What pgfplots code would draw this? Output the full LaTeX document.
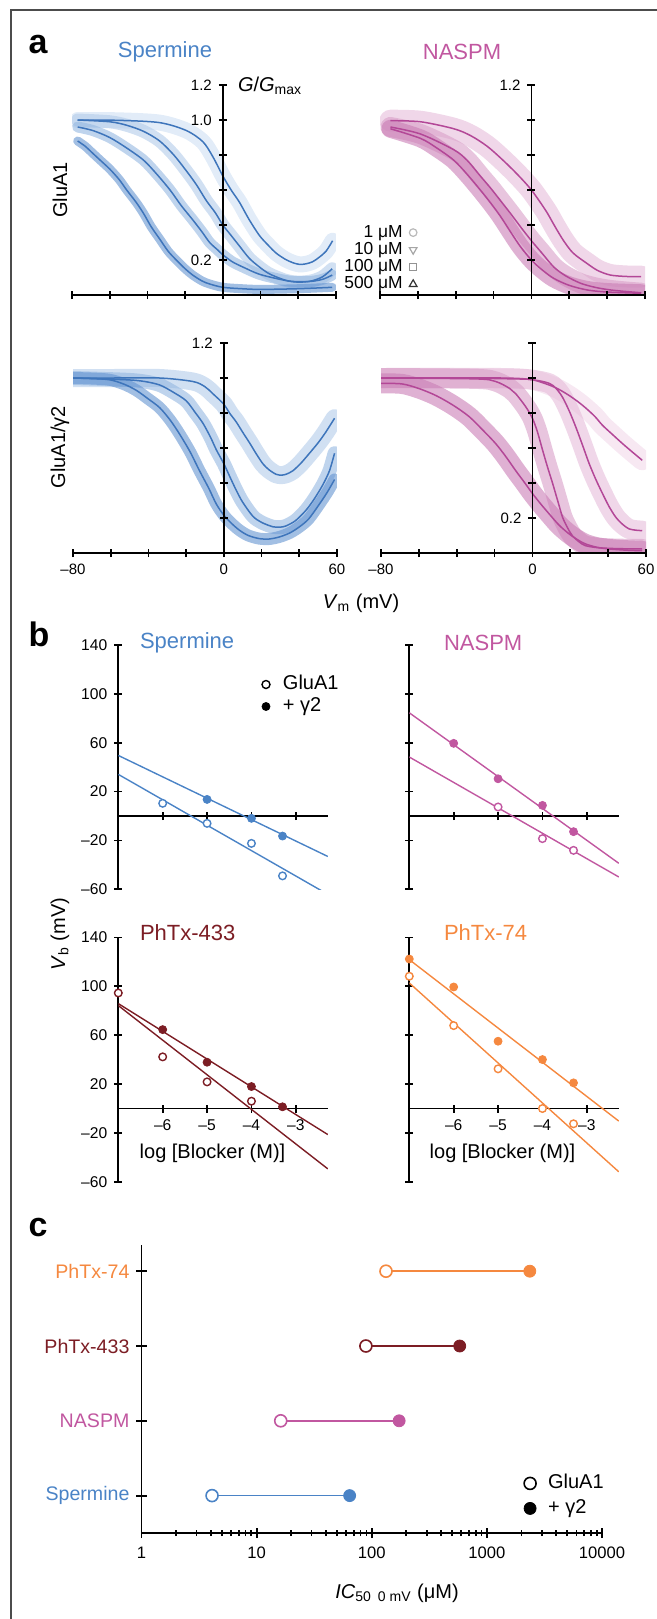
\documentclass[border=0pt]{standalone}
\usepackage{fontspec}
\setmainfont{Liberation Sans}
\usepackage{pgfplots}
\pgfplotsset{compat=1.18}
\usepackage{pgfplotstable}

\definecolor{spm}{HTML}{4A83C6}
\definecolor{spmline}{HTML}{3E75BB}
\definecolor{spm1}{HTML}{CFE0F3}
\definecolor{spm10}{HTML}{B3CCEA}
\definecolor{spm100}{HTML}{94B7E1}
\definecolor{spm500}{HTML}{6494D1}
\definecolor{nas}{HTML}{C157A0}
\definecolor{nasline}{HTML}{B34797}
\definecolor{nas1}{HTML}{F1D9EA}
\definecolor{nas10}{HTML}{E6BDDA}
\definecolor{nas100}{HTML}{D99FC8}
\definecolor{nas500}{HTML}{CA7DB5}
\definecolor{ph4}{HTML}{7C1D24}
\definecolor{ph7}{HTML}{F5883F}

\newcommand\ftitle{\fontsize{11}{13}\selectfont}
\newcommand\flab{\fontsize{10}{12}\selectfont}

% ---- panel a: G/Gmax vs Vm (fits) ----
\pgfplotstableread{
v g
-77 1.0
-55 0.998
-33.5 0.985
-19.4 0.94
-10.6 0.876
-5.3 0.79
0 0.68
4.4 0.60
8.8 0.53
14 0.43
19.4 0.34
24 0.285
28.2 0.24
33 0.205
37 0.185
40.6 0.175
44 0.178
47.6 0.19
51 0.215
54.7 0.25
58.2 0.31
}\spA
\pgfplotstableread{
v g
-77 1.0
-60 0.99
-51 0.97
-42 0.935
-33.5 0.88
-26 0.80
-19.4 0.71
-14 0.63
-8.8 0.54
-4 0.47
0 0.40
4.4 0.34
8.8 0.28
14 0.21
19.4 0.16
24 0.125
28 0.105
33 0.085
37 0.076
42 0.074
47.6 0.082
53 0.105
58 0.15
}\spB
\pgfplotstableread{
v g
-77 0.96
-69 0.94
-60 0.90
-51 0.84
-42 0.77
-35 0.69
-28 0.60
-22 0.51
-16 0.43
-11 0.36
-7 0.30
-3 0.26
0 0.23
5 0.19
10.6 0.16
19 0.12
28 0.095
35 0.08
40.6 0.076
47 0.078
53 0.09
58 0.114
}\spC
\pgfplotstableread{
v g
-77 0.88
-73 0.85
-69 0.81
-65 0.77
-60 0.72
-55 0.66
-51 0.60
-46 0.53
-42 0.465
-38 0.39
-33.5 0.32
-29 0.25
-24.7 0.20
-20 0.15
-16 0.114
-11 0.08
-7 0.063
0 0.044
10 0.036
20 0.032
40 0.036
58 0.044
}\spD
\pgfplotstableread{
v g
-74.5 0.996
-58.6 0.99
-41 0.95
-32 0.91
-23.4 0.85
-16 0.78
-9.3 0.71
-4 0.65
0 0.60
4 0.54
8.3 0.47
12.5 0.39
17 0.31
22 0.24
29.4 0.18
35 0.14
41.7 0.114
50 0.106
58 0.105
}\naB
\pgfplotstableread{
v g
-74.5 0.96
-58.6 0.92
-41 0.83
-34 0.77
-27 0.68
-21.5 0.61
-16.4 0.54
-11 0.465
-5.8 0.39
0 0.31
5.5 0.24
11.8 0.16
18 0.11
26 0.067
34 0.043
41.7 0.029
50 0.02
58 0.013
}\naC
\pgfplotstableread{
v g
-74.5 0.95
-58.6 0.895
-50 0.84
-41 0.77
-34 0.69
-27 0.60
-21.5 0.525
-16.4 0.45
-11 0.36
-5.8 0.276
0 0.20
5.5 0.145
11.8 0.095
20 0.055
29.4 0.029
40 0.017
58 0.01
}\naD
\pgfplotstableread{
v g
-80 1.0
-60 1.0
-34 1.0
-16.4 0.98
-10 0.95
-5.8 0.91
0 0.85
3 0.80
6.5 0.75
10 0.69
13.6 0.63
17 0.57
20.7 0.51
24 0.475
27.7 0.45
30.4 0.445
33 0.45
36.6 0.47
41 0.515
45.4 0.57
50 0.63
54 0.69
58.7 0.77
}\gaB
\pgfplotstableread{
v g
-80 1.0
-51.8 0.99
-42 0.98
-34 0.96
-27 0.92
-20 0.87
-15 0.80
-11 0.74
-7 0.66
-4 0.59
0 0.51
3 0.44
6.5 0.36
10 0.29
15.4 0.21
20 0.175
26 0.15
30 0.148
33 0.155
38 0.185
43.6 0.245
48 0.31
52.5 0.39
56 0.47
58.7 0.57
}\gaC
\pgfplotstableread{
v g
-80 1.0
-70 0.997
-60.6 0.99
-53 0.965
-46.5 0.93
-40 0.88
-34 0.83
-28.5 0.76
-23.5 0.68
-18 0.58
-12.9 0.47
-8 0.37
-4 0.28
0 0.216
4 0.17
8.3 0.13
13 0.10
18.9 0.082
24 0.08
29.5 0.092
35 0.115
40 0.149
45 0.195
50.7 0.28
55 0.35
58.7 0.42
}\gaD
\pgfplotstableread{
v g
-80 1.0
-40 1.0
-10 0.995
0 0.99
8.8 0.96
14 0.935
19.4 0.90
24 0.865
28 0.83
33 0.78
37 0.73
42 0.68
47.6 0.625
53 0.575
58 0.53
}\mgA
\pgfplotstableread{
v g
-80 1.0
-16 1.0
0 0.99
8.8 0.97
12.5 0.94
15.9 0.89
19.5 0.81
22.9 0.72
26.5 0.615
30 0.51
33.5 0.42
37 0.34
40.5 0.265
44 0.205
47.5 0.165
51 0.138
55 0.13
58 0.128
}\mgB
\pgfplotstableread{
v g
-80 1.0
-30 0.995
-19.4 0.98
-12 0.94
-8.8 0.91
-3.5 0.835
0 0.77
2.7 0.69
5.3 0.59
8 0.49
10.6 0.40
13.3 0.30
15.9 0.205
18.5 0.145
21 0.10
24.5 0.065
28 0.042
35 0.03
45 0.025
58 0.023
}\mgC
\pgfplotstableread{
v g
-80 0.97
-68.8 0.966
-60 0.94
-51 0.90
-42 0.845
-33.5 0.78
-26 0.70
-19.4 0.625
-14 0.55
-8.8 0.47
-4 0.40
0 0.34
4.4 0.28
8.8 0.224
14 0.16
19.4 0.109
24 0.075
28 0.052
34 0.033
40.6 0.023
50 0.016
58 0.013
}\mgD

\pgfplotsset{
  noarrow/.style={axis line style={-, line width=0.9pt},
    x axis line style={-}, y axis line style={-},
    every inner x axis line/.append style={-}, every outer x axis line/.append style={-},
    every inner y axis line/.append style={-}, every outer y axis line/.append style={-}},
  base/.style={scale only axis, enlargelimits=false,
    tick style={line width=0.9pt, black}, major tick length=4pt, tick align=outside,
    hide obscured x ticks=false, hide obscured y ticks=false,
    /pgf/number format/assume math mode=true},
  aP/.style={base, width=132pt, height=105pt, xmin=-80, xmax=60, ymin=0, ymax=1.2,
    axis x line=bottom, axis y line=middle, axis on top, noarrow,
    xtick={-80,-60,-40,-20,0,20,40,60}, ytick={0.2,0.4,0.6,0.8,1.0,1.2},
    tick label style={font=\fontsize{7.5}{8}\selectfont}},
  bP/.style={base, width=104.75pt, height=122.15pt, xmin=-7, xmax=-2.28, ymin=-60, ymax=140,
    axis x line=middle, axis y line=left, noarrow, clip mode=individual,
    xtick={-6,-5,-4,-3}, ytick={-60,-20,20,60,100,140},
    tick label style={font=\fontsize{7.8}{8}\selectfont}},
  band/.style={smooth, no markers, line width=#1, opacity=0.6, line cap=round, line join=round},
  fit/.style={smooth, no markers, line width=0.75pt},
  dot/.style={only marks, mark=*, mark size=2pt, #1},
  odot/.style={only marks, mark=*, mark size=1.9pt, mark options={fill=white, draw=#1, line width=0.7pt}},
  mylegend/.style={legend image code/.code={\draw[##1] plot coordinates {(0pt,0pt)};},
    legend cell align=left},
}

\begin{document}
\begin{tikzpicture}
\path[use as bounding box] (0,0) rectangle (328.5pt,-809.5pt);

% ===== panel a =====
\begin{axis}[aP, at={(36pt,-147.5pt)}, anchor=south west, width=132pt,
  xticklabels={}, yticklabels={0.2,,,,1.0,1.2}]
\addplot[band=8pt, spm1] table {\spA};
\addplot[band=6.5pt, spm10] table {\spB};
\addplot[band=5.5pt, spm100] table {\spC};
\addplot[band=4.5pt, spm500] table {\spD};
\addplot[fit, spmline] table {\spA};
\addplot[fit, spmline] table {\spB};
\addplot[fit, spmline] table {\spC};
\addplot[fit, spmline] table {\spD};
\end{axis}

\begin{axis}[aP, at={(190pt,-147.5pt)}, anchor=south west, width=132.5pt,
  xticklabels={}, yticklabels={,,,,,1.2},
  legend image code/.code={\draw[#1] plot coordinates {(0pt,0pt)};},
  legend plot pos=right, legend cell align=right,
  legend style={at={(rel axis cs:0.141,0.34)}, anchor=north east, draw=none, fill=none,
    inner sep=0pt, row sep=0pt, font=\fontsize{8.7}{9}\selectfont,
    nodes={inner sep=0.3pt, text height=6.3pt, text depth=1.7pt},
    /tikz/every odd column/.style={column sep=3pt}}]
\addlegendimage{only marks, mark=o, gray!55, mark size=1.9pt, line width=0.6pt}
\addlegendentry{1 μM}
\addlegendimage{only marks, mark=triangle, mark options={rotate=180}, gray!70, mark size=2.2pt, line width=0.6pt}
\addlegendentry{10 μM}
\addlegendimage{only marks, mark=square, gray!85, mark size=1.7pt, line width=0.6pt}
\addlegendentry{100 μM}
\addlegendimage{only marks, mark=triangle, black!80, mark size=2.2pt, line width=0.6pt}
\addlegendentry{500 μM}
\addplot[band=11pt, nas10] table {\naB};
\addplot[band=10pt, nas100] table {\naC};
\addplot[band=9pt, nas500] table {\naD};
\addplot[fit, nasline] table {\naB};
\addplot[fit, nasline] table {\naC};
\addplot[fit, nasline] table {\naD};
\end{axis}

\begin{axis}[aP, at={(36.5pt,-276.5pt)}, anchor=south west, width=132pt,
  xticklabels={–80,,,,0,,,60}, yticklabels={,,,,,1.2}]
\addplot[band=9pt, spm10] table {\gaB};
\addplot[band=7pt, spm100] table {\gaC};
\addplot[band=6pt, spm500] table {\gaD};
\addplot[fit, spmline] table {\gaB};
\addplot[fit, spmline] table {\gaC};
\addplot[fit, spmline] table {\gaD};
\end{axis}

\begin{axis}[aP, at={(190.5pt,-276.5pt)}, anchor=south west, width=132.5pt,
  xticklabels={–80,,,,0,,,60}, yticklabels={0.2,,,,,}]
\addplot[band=10pt, nas1] table {\mgA};
\addplot[band=10pt, nas10] table {\mgB};
\addplot[band=10pt, nas100] table {\mgC};
\addplot[band=10pt, nas500] table {\mgD};
\addplot[fit, nasline] table {\mgA};
\addplot[fit, nasline] table {\mgB};
\addplot[fit, nasline] table {\mgC};
\addplot[fit, nasline] table {\mgD};
\end{axis}

% ===== panel b =====
\begin{axis}[bP, at={(59.15pt,-444.65pt)}, anchor=south west,
  xticklabels={}, yticklabels={–60,–20,20,60,100,140}, mylegend,
  legend style={at={(rel axis cs:0.684,0.885)}, anchor=north west, draw=none, fill=none,
    inner sep=0pt, row sep=0pt, font=\fontsize{10}{11}\selectfont,
    nodes={inner sep=0.5pt, text height=7.5pt, text depth=2.5pt},
    /tikz/every odd column/.style={column sep=6pt}}]
\addlegendimage{only marks, mark=*, mark size=2pt, black, mark options={fill=white, line width=0.7pt}}
\addlegendentry{GluA1}
\addlegendimage{only marks, mark=*, mark size=2pt, black}
\addlegendentry{+ γ2}
\addplot[spm, line width=0.7pt] coordinates {(-7,49.6) (-2.28,-33.1)};
\addplot[spm, line width=0.7pt] coordinates {(-7,34.1) (-2.28,-64.1)};
\addplot[odot=spm] coordinates {(-6,10.4) (-5,-6) (-4,-22.4) (-3.3,-49)};
\addplot[dot=spm] coordinates {(-5,13.6) (-4,-1.9) (-3.3,-16.4)};
\end{axis}

\begin{axis}[bP, at={(204.65pt,-444.65pt)}, anchor=south west,
  xticklabels={}, yticklabels={}]
\addplot[nas, line width=0.7pt] coordinates {(-7,84.5) (-2.28,-38.7)};
\addplot[nas, line width=0.7pt] coordinates {(-7,48.3) (-2.28,-49.9)};
\addplot[odot=nas] coordinates {(-5,7.4) (-4,-18.5) (-3.3,-28.1)};
\addplot[dot=nas] coordinates {(-6,59.5) (-5,30.5) (-4,8.7) (-3.3,-12.8)};
\end{axis}

\begin{axis}[bP, at={(59.15pt,-590.9pt)}, anchor=south west,
  xticklabels={–6,–5,–4,–3}, yticklabels={–60,–20,20,60,100,140}]
\addplot[ph4, line width=0.7pt] coordinates {(-7,85.9) (-2.28,-21.3)};
\addplot[ph4, line width=0.7pt] coordinates {(-7,84.3) (-2.28,-49.4)};
\addplot[odot=ph4] coordinates {(-7,94.6) (-6,42.3) (-5,21.8) (-4,6.0)};
\addplot[dot=ph4] coordinates {(-6,64.6) (-5,37.9) (-4,18.0) (-3.3,1.4)};
\end{axis}

\begin{axis}[bP, at={(204.65pt,-590.9pt)}, anchor=south west,
  xticklabels={–6,–5,–4,–3}, yticklabels={}]
\addplot[ph7, line width=0.7pt] coordinates {(-7,121.9) (-2.28,-10.3)};
\addplot[ph7, line width=0.7pt] coordinates {(-7,102.8) (-2.28,-51.8)};
\addplot[odot=ph7] coordinates {(-7,108.3) (-6,67.9) (-5,32.5) (-4,0) (-3.3,-12.5)};
\addplot[dot=ph7] coordinates {(-7,122.4) (-6,99.5) (-5,55.1) (-4,40.1) (-3.3,21)};
\end{axis}

% ===== panel c =====
\begin{axis}[base, at={(70.75pt,-766.5pt)}, anchor=south west, width=230.25pt, height=144pt,
  xmode=log, xmin=1, xmax=10000, ymin=0.5, ymax=4.35,
  axis x line=bottom, axis y line=left, noarrow, clip mode=individual,
  xtick={1,10,100,1000,10000}, xticklabels={1,10,100,1000,10000},
  minor xtick={2,3,...,9,20,30,...,90,200,300,...,900,2000,3000,...,9000},
  major tick length=5pt, minor tick length=3pt,
  minor tick style={line width=0.9pt},
  ytick={1,2,3,4},
  yticklabels={\textcolor{spm}{Spermine},\textcolor{nas}{NASPM},\textcolor{ph4}{PhTx-433},\textcolor{ph7}{PhTx-74}},
  yticklabel style={font=\fontsize{9.8}{10}\selectfont},
  xticklabel style={font=\fontsize{8.3}{9}\selectfont, yshift=-1pt},
  mylegend,
  legend style={at={(rel axis cs:0.83,0.217)}, anchor=north west, draw=none, fill=none,
    inner sep=0pt, row sep=0pt, font=\fontsize{10}{11}\selectfont,
    nodes={inner sep=0.5pt, text height=8.5pt, text depth=3pt},
    /tikz/every odd column/.style={column sep=5.5pt}}]
\addlegendimage{only marks, mark=*, mark size=3pt, black, mark options={fill=white, line width=0.8pt}}
\addlegendentry{GluA1}
\addlegendimage{only marks, mark=*, mark size=3pt, black}
\addlegendentry{+ γ2}
\addplot[spm, line width=0.8pt] coordinates {(4.1,1) (64.3,1)};
\addplot[nas, line width=0.8pt] coordinates {(16.2,2) (173,2)};
\addplot[ph4, line width=0.8pt] coordinates {(89,3) (581,3)};
\addplot[ph7, line width=0.8pt] coordinates {(133,4) (2360,4)};
\addplot[only marks, mark=*, mark size=3pt, mark options={fill=white, draw=spm, line width=0.8pt}] coordinates {(4.1,1)};
\addplot[only marks, mark=*, mark size=3pt, mark options={fill=white, draw=nas, line width=0.8pt}] coordinates {(16.2,2)};
\addplot[only marks, mark=*, mark size=3pt, mark options={fill=white, draw=ph4, line width=0.8pt}] coordinates {(89,3)};
\addplot[only marks, mark=*, mark size=3pt, mark options={fill=white, draw=ph7, line width=0.8pt}] coordinates {(133,4)};
\addplot[only marks, mark=*, mark size=3pt, spm] coordinates {(64.3,1)};
\addplot[only marks, mark=*, mark size=3pt, nas] coordinates {(173,2)};
\addplot[only marks, mark=*, mark size=3pt, ph4] coordinates {(581,3)};
\addplot[only marks, mark=*, mark size=3pt, ph7] coordinates {(2360,4)};
\end{axis}

% ===== labels =====
\begin{scope}[x=0.5pt,y=-0.5pt]
\draw[black!70, line width=0.7pt] (11,1619) -- (11,10) -- (657,10);
\node[font=\fontsize{17}{17}\selectfont\bfseries] at (38,45) {a};
\node[font=\fontsize{17}{17}\selectfont\bfseries] at (39,634) {b};
\node[font=\fontsize{17}{17}\selectfont\bfseries] at (38,1228) {c};
\node[font=\ftitle, text=spm] at (165,52) {Spermine};
\node[font=\ftitle, text=nas] at (462,52) {NASPM};
\node[font=\flab, rotate=90] at (60,190) {GluA1};
\node[font=\flab, rotate=90] at (60,447) {GluA1/γ2};
\node[font=\flab, anchor=west] at (231,86) {\textit{G}/\textit{G}\textsubscript{max}};
\node[font=\flab] at (361,603) {\textit{V}\textsubscript{m} (mV)};
\node[font=\ftitle, text=spm, anchor=west] at (133,643) {Spermine};
\node[font=\ftitle, text=nas, anchor=west] at (437,643) {NASPM};
\node[font=\ftitle, text=ph4, anchor=west] at (133,933) {PhTx-433};
\node[font=\ftitle, text=ph7, anchor=west] at (437,933) {PhTx-74};
\node[font=\flab, rotate=90] at (60,934) {\textit{V}\textsubscript{b} (mV)};
\node[font=\flab] at (212.5,1153) {log [Blocker (M)]};
\node[font=\flab] at (502.5,1153) {log [Blocker (M)]};
\node[font=\flab] at (397,1593) {\textit{IC}\textsubscript{50\enspace 0 mV} (μM)};
\end{scope}
\end{tikzpicture}
\end{document}
